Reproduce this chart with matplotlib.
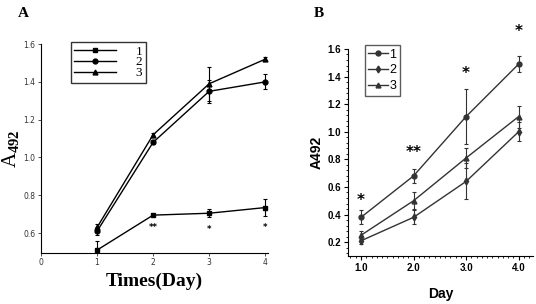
import matplotlib
matplotlib.use("Agg")
import matplotlib.pyplot as plt
import numpy as np
from matplotlib.ticker import MultipleLocator

plt.rcParams['mathtext.fontset'] = 'custom'
plt.rcParams['mathtext.rm'] = 'Liberation Serif'
plt.rcParams['mathtext.bf'] = 'Liberation Serif:bold'

# panel A data
days_a = [1, 2, 3, 4]
a1 = [0.51, 0.695, 0.705, 0.735]
a1_err = [0.05, 0.005, 0.02, 0.045]
a2 = [0.61, 1.08, 1.35, 1.40]
a2_err = [0.02, 0.01, 0.06, 0.04]
a3 = [0.63, 1.12, 1.39, 1.52]
a3_err = [0.02, 0.01, 0.09, 0.01]
stars_a = ['', '**', '*', '*']
stars_a_y = [0, 0.63, 0.62, 0.63]

# panel B data
days_b = [1.0, 2.0, 3.0, 4.0]
b1 = [0.38, 0.68, 1.11, 1.49]
b1_err = [0.05, 0.05, 0.2, 0.06]
b2 = [0.21, 0.38, 0.64, 1.0]
b2_err = [0.02, 0.05, 0.13, 0.07]
b3 = [0.25, 0.50, 0.81, 1.11]
b3_err = [0.03, 0.06, 0.07, 0.08]
stars_b = ['*', '**', '*', '*']
stars_b_y = [0.50, 0.85, 1.42, 1.73]

fig = plt.figure(figsize=(5.36, 3.04), dpi=100)
serif = 'Liberation Serif'
narrow = ['Liberation Sans Narrow', 'Liberation Sans', 'DejaVu Sans']

# ---------- A ----------
ax = fig.add_axes([0.0765, 0.168, 0.4235, 0.687])
ekw = dict(fmt='none', ecolor='black', capsize=1.5, elinewidth=0.8, capthick=0.8)
for y, e, m, lab in [(a1, a1_err, 's', '1'), (a2, a2_err, 'o', '2'), (a3, a3_err, '^', '3')]:
    ax.errorbar(days_a, y, yerr=e, **ekw)
    ax.plot(days_a, y, color='black', lw=1, marker=m, ms=3.5, label=lab)
for x, s, y in zip(days_a, stars_a, stars_a_y):
    ax.text(x, y, s, ha='center', va='center', fontsize=6, fontweight='bold')
ax.set_xlim(0, 4.05)
ax.set_ylim(0.495, 1.6)
ax.set_xticks([0, 1, 2, 3, 4])
ax.set_yticks([0.6, 0.8, 1.0, 1.2, 1.4, 1.6])
ax.set_yticklabels(['0.6', '0.8', '1.0', '1.2', '1.4', '1.6'])
ax.tick_params(labelsize=5.5, length=2, width=0.6, pad=2, colors='#333333')
ax.spines['top'].set_visible(False)
ax.spines['right'].set_visible(False)
ax.set_xlabel('Times(Day)', family=serif, fontweight='bold', fontsize=14, labelpad=4)
ax.set_ylabel('A$_{\\mathbf{492}}$', family=serif, fontsize=15)
ax.yaxis.set_label_coords(-0.085, 0.5)
leg = ax.legend(loc='upper left', bbox_to_anchor=(0.13, 1.01), prop={'family': serif, 'size': 9.5},
                frameon=True, fancybox=False, edgecolor='black', handlelength=3.2,
                labelspacing=-0.1, borderpad=0.25, handletextpad=1.5, borderaxespad=0)
leg.get_frame().set_linewidth(1)
fig.text(0.033, 0.955, 'A', family=serif, fontweight='bold', fontsize=11, va='center')

# ---------- B ----------
bx = fig.add_axes([0.649, 0.158, 0.345, 0.681])
ekw = dict(fmt='none', ecolor='#333333', capsize=1.2, elinewidth=0.8, capthick=0.8)
for y, e, m, lab in [(b1, b1_err, 'o', '1'), (b2, b2_err, 'd', '2'), (b3, b3_err, '^', '3')]:
    bx.errorbar(days_b, y, yerr=e, **ekw)
    bx.plot(days_b, y, color='#333333', lw=1, marker=m, ms=3.5, label=lab)
for x, s, y in zip(days_b, stars_b, stars_b_y):
    bx.text(x, y, s, ha='center', va='center', fontsize=11, fontweight='bold', clip_on=False)
bx.set_xlim(0.75, 4.27)
bx.set_ylim(0.1, 1.6)
bx.set_xticks(days_b)
bx.set_xticklabels(['1.0', '2.0', '3.0', '4.0'])
bx.set_yticks([0.2, 0.4, 0.6, 0.8, 1.0, 1.2, 1.4, 1.6])
bx.set_yticklabels(['0.2', '0.4', '0.6', '0.8', '1.0', '1.2', '1.4', '1.6'])
bx.xaxis.set_minor_locator(MultipleLocator(0.1))
bx.yaxis.set_minor_locator(MultipleLocator(0.04))
bx.tick_params(which='major', length=3, width=0.8, pad=2)
bx.tick_params(which='minor', length=1.5, width=0.6)
for lab in bx.get_xticklabels() + bx.get_yticklabels():
    lab.set_fontfamily(narrow)
    lab.set_fontweight('bold')
    lab.set_fontsize(7)
bx.spines['top'].set_visible(False)
bx.spines['right'].set_visible(False)
bx.set_xlabel('Day', family=narrow, fontweight='bold', fontsize=10, labelpad=10)
bx.set_ylabel('A492', family=narrow, fontweight='bold', fontsize=10)
bx.yaxis.set_label_coords(-0.13, 0.5)
leg = bx.legend(loc='upper left', bbox_to_anchor=(0.09, 1.02), prop={'family': narrow, 'size': 9},
                frameon=True, fancybox=False, edgecolor='#333333', handlelength=1.6,
                labelspacing=0.3, borderpad=0.3, handletextpad=0.1, borderaxespad=0)
leg.get_frame().set_linewidth(1)
fig.text(0.585, 0.955, 'B', family=serif, fontweight='bold', fontsize=11, va='center')

fig.savefig('out.png', dpi=100)
